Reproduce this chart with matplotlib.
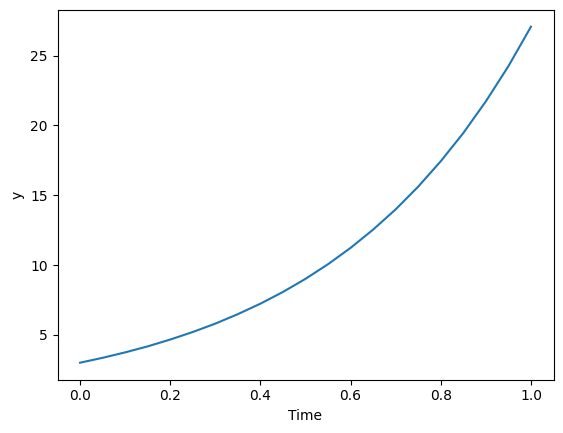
import matplotlib
matplotlib.use("Agg")
import matplotlib.pyplot as plt

time = [0.0, 0.05, 0.1, 0.15, 0.2, 0.25, 0.3, 0.35, 0.4, 0.45, 0.5,
        0.55, 0.6, 0.65, 0.7, 0.75, 0.8, 0.85, 0.9, 0.95, 1.0]
y = [3.00, 3.35, 3.74, 4.17, 4.66, 5.20, 5.80, 6.48, 7.23, 8.07, 9.01,
     10.06, 11.23, 12.54, 13.99, 15.62, 17.44, 19.46, 21.73, 24.25, 27.08]

fig = plt.figure(figsize=(5.63, 4.33), dpi=100)
ax = fig.add_axes([57.5 / 563, (433 - 379.5) / 433, 496 / 563, 369.6 / 433])
ax.plot(time, y, color="#1f77b4")
ax.set_xlabel("Time")
ax.set_ylabel("y")
fig.savefig("out.png", dpi=100)
